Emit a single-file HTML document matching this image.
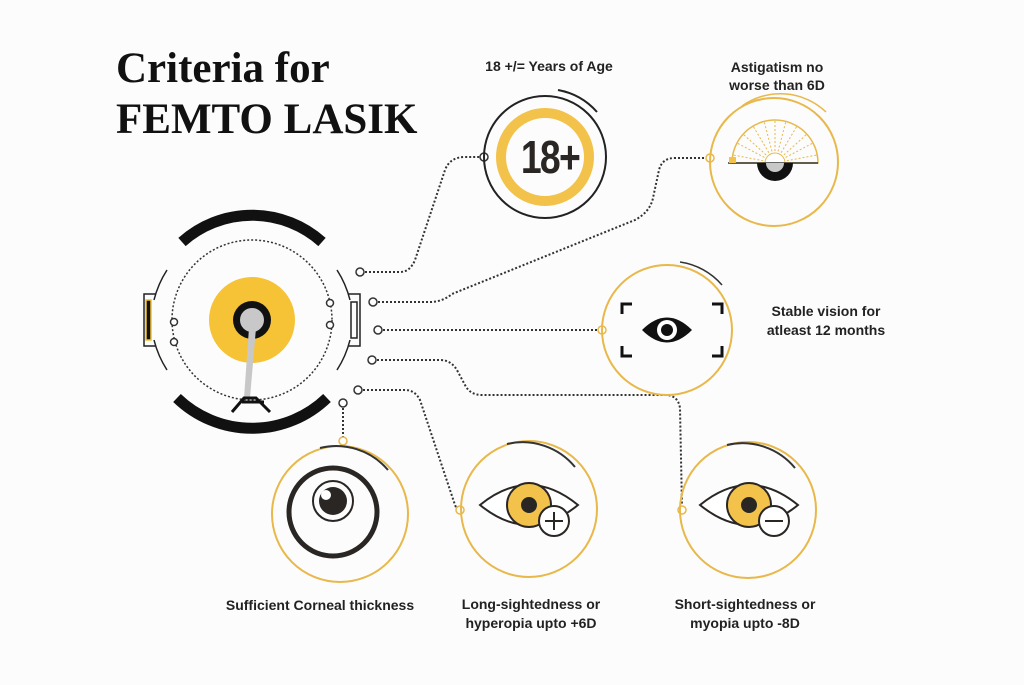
<!DOCTYPE html>
<html><head><style>
body{margin:0;background:#fcfcfc;}
svg{display:block}
text{font-family:"Liberation Sans",Arial,sans-serif;font-weight:bold;fill:#222}
</style></head><body>
<svg width="1024" height="685" viewBox="0 0 1024 685" xmlns="http://www.w3.org/2000/svg">
<rect width="1024" height="685" fill="#fcfcfc"/>
<text x="116" y="82" style="font-family:'Liberation Serif',serif;font-size:43px;fill:#111">Criteria for</text>
<text x="116" y="133" style="font-family:'Liberation Serif',serif;font-size:43px;fill:#111">FEMTO LASIK</text>

<!-- connectors -->
<g fill="none" stroke="#333" stroke-width="2" stroke-dasharray="2 2">
<path d="M365,272 H400 Q410,272 415,260 L445,170 Q450,157 465,157 H480"/>
<path d="M378,302 H430 Q442,302 452,294 L635,220 Q650,212 653,198 L659,170 Q662,158 675,158 H706"/>
<path d="M383,330 H600"/>
<path d="M377,360 H440 Q452,360 458,372 L465,385 Q470,395 482,395 H665 Q678,395 680,408 L682,508"/>
<path d="M363,390 H405 Q415,390 420,400 L455,505 Q457,510 460,510"/>
<path d="M343,408 V438"/>
</g>
<g fill="#fff" stroke="#333" stroke-width="1.5">
<circle cx="360" cy="272" r="4"/><circle cx="373" cy="302" r="4"/><circle cx="378" cy="330" r="4"/>
<circle cx="372" cy="360" r="4"/><circle cx="358" cy="390" r="4"/><circle cx="343" cy="403" r="4"/>
<circle cx="484" cy="157" r="4"/>
</g>
<g fill="#fff" stroke="#e8b84a" stroke-width="1.5">
<circle cx="710" cy="158" r="4"/><circle cx="602" cy="330" r="4"/><circle cx="343" cy="441" r="4"/>
<circle cx="460" cy="510" r="4"/><circle cx="682" cy="510" r="4"/>
</g>

<!-- central device -->
<g transform="translate(252,320)">
<path d="M-70,-78 A105,105 0 0 1 70,-78" fill="none" stroke="#111" stroke-width="11"/>
<path d="M-75,78 A108,108 0 0 0 75,78" fill="none" stroke="#111" stroke-width="11"/>
<circle r="80" fill="none" stroke="#333" stroke-width="1.5" stroke-dasharray="2 2"/>
<path d="M-85,-50 A100,100 0 0 0 -98,-20 M-85,50 A100,100 0 0 1 -98,20 M85,-50 A100,100 0 0 1 98,-20 M85,50 A100,100 0 0 0 98,20" fill="none" stroke="#222" stroke-width="1.5"/>
<path d="M-96,-26 H-108 V26 H-96" fill="none" stroke="#222" stroke-width="1.5"/>
<rect x="-106" y="-20" width="5" height="40" fill="#111" stroke="#f2c230" stroke-width="1.5"/>
<path d="M96,-26 H108 V26 H96" fill="none" stroke="#222" stroke-width="1.5"/>
<rect x="99" y="-18" width="6" height="36" fill="none" stroke="#222" stroke-width="1.5"/>
<circle r="43" fill="#f5c335"/>
<circle r="19" fill="#111"/>
<circle r="12" fill="#c8c8c8"/>
<path d="M-3,8 L-8,78 H-2 L4,8Z" fill="#c8c8c8"/>
<path d="M-20,92 L-8,78 H4 L18,92 M-10,82 H12" fill="none" stroke="#111" stroke-width="3"/>
<g fill="#fff" stroke="#333" stroke-width="1.5">
<circle cx="-78" cy="2" r="3.5"/><circle cx="-78" cy="22" r="3.5"/><circle cx="78" cy="-17" r="3.5"/><circle cx="78" cy="5" r="3.5"/>
</g>
</g>

<!-- 18+ -->
<circle cx="545" cy="157" r="61" fill="none" stroke="#222" stroke-width="2"/>
<path d="M558,90 A68,68 0 0 1 597,112" fill="none" stroke="#222" stroke-width="2"/>
<circle cx="545" cy="157" r="44" fill="none" stroke="#f2c24a" stroke-width="10"/>
<text x="0" y="0" text-anchor="middle" transform="translate(550,173) scale(0.85,1.05)" style="font-size:44px;letter-spacing:-2px;fill:#2a2624">18+</text>
<text x="549" y="71" text-anchor="middle" style="font-size:14px">18 +/= Years of Age</text>

<!-- astig -->
<circle cx="774" cy="162" r="64" fill="none" stroke="#e8b84a" stroke-width="2"/>
<path d="M742,106 A66,66 0 0 1 826,112" fill="none" stroke="#e8b84a" stroke-width="1.5"/>
<g stroke="#e8b84a" stroke-width="1" fill="none">
<path d="M732,163 A43,43 0 0 1 818,163 Z" stroke-width="1.5"/>
<path d="M775,163 L775,120 M775,163 L753,126 M775,163 L797,126 M775,163 L737,143 M775,163 L813,143 M775,163 L764,121 M775,163 L786,121 M775,163 L743,134 M775,163 L807,134 M775,163 L733,155 M775,163 L817,155" stroke-dasharray="2 2"/>
<circle cx="775" cy="163" r="10" fill="#fff"/>
</g>
<path d="M728,163 H818" stroke="#333" stroke-width="1.5"/>
<path d="M757,163 A18,18 0 0 0 793,163 Z" fill="#111"/>
<path d="M766,163 A9,9 0 0 0 784,163 Z" fill="#c8c8c8"/>
<rect x="729" y="157" width="7" height="6" fill="#f2c24a"/>
<text x="777" y="72" text-anchor="middle" style="font-size:14px">Astigatism no</text>
<text x="777" y="90" text-anchor="middle" style="font-size:14px">worse than 6D</text>

<!-- stable -->
<circle cx="667" cy="330" r="65" fill="none" stroke="#e8b84a" stroke-width="2"/>
<path d="M680,262 A68,68 0 0 1 722,285" fill="none" stroke="#333" stroke-width="1.5"/>
<path d="M622,314 V304 H632 M712,304 H722 V314 M622,346 V356 H632 M712,356 H722 V346" fill="none" stroke="#111" stroke-width="3"/>
<path d="M642,330 Q667,305 692,330 Q667,355 642,330Z" fill="#111"/>
<circle cx="667" cy="330" r="10" fill="#fff"/><circle cx="667" cy="330" r="6" fill="#111"/>
<text x="826" y="316" text-anchor="middle" style="font-size:14px">Stable vision for</text>
<text x="826" y="335" text-anchor="middle" style="font-size:14px">atleast 12 months</text>

<!-- corneal -->
<circle cx="340" cy="514" r="68" fill="none" stroke="#e8b84a" stroke-width="2"/>
<path d="M320,448 A68,68 0 0 1 388,470" fill="none" stroke="#333" stroke-width="2"/>
<circle cx="333" cy="512" r="44" fill="none" stroke="#2a2624" stroke-width="5"/>
<circle cx="333" cy="501" r="20" fill="none" stroke="#2a2624" stroke-width="2"/>
<circle cx="333" cy="501" r="14" fill="#2a2624"/>
<circle cx="326" cy="495" r="5" fill="#fff"/>
<text x="320" y="610" text-anchor="middle" style="font-size:14px">Sufficient Corneal thickness</text>

<!-- long -->
<circle cx="529" cy="509" r="68" fill="none" stroke="#e8b84a" stroke-width="2"/>
<path d="M507,444 A68,68 0 0 1 575,467" fill="none" stroke="#333" stroke-width="2"/>
<path d="M480,505 Q529,465 578,505 Q529,545 480,505Z" fill="#fff" stroke="#2a2624" stroke-width="2"/>
<circle cx="529" cy="505" r="22" fill="#f2c24a" stroke="#2a2624" stroke-width="2"/>
<circle cx="529" cy="505" r="8" fill="#2a2624"/>
<circle cx="554" cy="521" r="15" fill="#fff" stroke="#2a2624" stroke-width="2"/>
<path d="M545,521 H563 M554,512 V530" stroke="#2a2624" stroke-width="2"/>
<text x="531" y="609" text-anchor="middle" style="font-size:14px">Long-sightedness or</text>
<text x="531" y="628" text-anchor="middle" style="font-size:14px">hyperopia upto +6D</text>

<!-- short -->
<circle cx="748" cy="510" r="68" fill="none" stroke="#e8b84a" stroke-width="2"/>
<path d="M727,445 A68,68 0 0 1 795,468" fill="none" stroke="#333" stroke-width="2"/>
<path d="M700,505 Q749,465 798,505 Q749,545 700,505Z" fill="#fff" stroke="#2a2624" stroke-width="2"/>
<circle cx="749" cy="505" r="22" fill="#f2c24a" stroke="#2a2624" stroke-width="2"/>
<circle cx="749" cy="505" r="8" fill="#2a2624"/>
<circle cx="774" cy="521" r="15" fill="#fff" stroke="#2a2624" stroke-width="2"/>
<path d="M765,521 H783" stroke="#2a2624" stroke-width="2"/>
<text x="745" y="609" text-anchor="middle" style="font-size:14px">Short-sightedness or</text>
<text x="745" y="628" text-anchor="middle" style="font-size:14px">myopia upto   -8D</text>
</svg>
</body></html>
